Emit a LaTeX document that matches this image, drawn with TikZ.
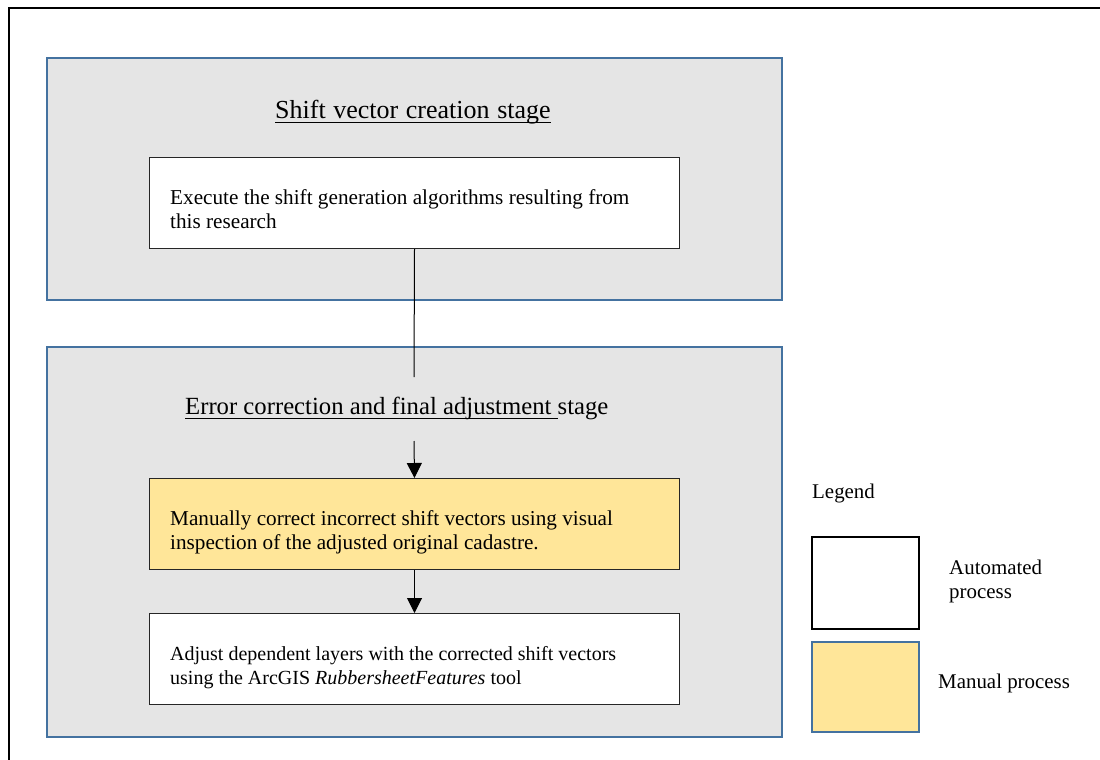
\documentclass[tikz,border=0pt]{standalone}
\usepackage{fontspec}
\setmainfont{Liberation Serif}
\usetikzlibrary{arrows.meta}
\definecolor{stageblue}{RGB}{68,114,160}
\definecolor{stagegray}{RGB}{229,229,229}
\definecolor{manualyellow}{RGB}{255,230,153}
\newcommand\myul[1]{\setbox0\hbox{#1}\rlap{\rule[-5.3pt]{\wd0}{1.5pt}}\box0}
\newcommand\twolines[2]{\begin{tabular}[t]{@{}l@{}}#1\\#2\end{tabular}}
\tikzset{
  stagebox/.style={draw=stageblue, line width=2.2pt, fill=stagegray, anchor=north west, inner sep=0pt},
  procbox/.style={draw=black!85, line width=1pt, fill=white, minimum width=530pt, minimum height=91pt,
    anchor=north west, inner sep=0pt},
  manualbox/.style={procbox, fill=manualyellow},
  boxtext/.style={anchor=base west, inner sep=0pt, font=\fontsize{21.2}{24}\selectfont},
  titletext/.style={anchor=base west, inner sep=0pt},
  legtext/.style={anchor=base west, inner sep=0pt, font=\fontsize{20.9}{24}\selectfont},
  flow/.style={line width=1pt, -{Triangle[length=15pt,width=15pt]}},
  plainline/.style={line width=1pt}
}
\begin{document}
\begin{tikzpicture}[x=1pt,y=-1pt]
\useasboundingbox (0,0) rectangle (1100,760);
\fill[white] (0,0) rectangle (1100,760);
% outer frame (only left and top visible)
\draw[line width=2pt] (8.5,1000) -- (8.5,8) -- (1200,8);
% stages
\node[stagebox, minimum width=735pt, minimum height=242pt] (s1) at (46,57) {};
\node[stagebox, minimum width=735pt, minimum height=390pt] (s2) at (46,346) {};
\node[titletext, font={\fontsize{26}{30}\selectfont\spaceskip=7.6pt plus 1pt}] (t1) at (275,118) {\myul{Shift vector creation stage}};
\node[titletext, font=\fontsize{24.7}{30}\selectfont] (t2) at (185,414) {\myul{Error correction and final adjustment\ }stage};
% process boxes
\node[procbox] (a) at (149,157) {};
\node[manualbox] (b) at (149,478) {};
\node[procbox] (c) at (149,613) {};
\node[boxtext] (at) at (170,204) {\twolines{Execute the shift generation algorithms resulting from}{this research}};
\node[boxtext] (bt) at (170,525) {\twolines{Manually correct incorrect shift vectors using visual}{inspection of the adjusted original cadastre.}};
\node[boxtext, font=\fontsize{20}{24}\selectfont] (ct) at (170,660) {\twolines{Adjust dependent layers with the corrected shift vectors}{using the ArcGIS \textit{RubbersheetFeatures} tool}};
\coordinate (aend) at (414,377);
\coordinate (bstart) at (414,441);
\draw[plainline] (a.south) -- (aend);
\draw[flow] (bstart) -- (b.north);
\draw[flow] (b.south) -- (c.north);
% legend
\node[legtext] (lg) at (812,498) {Legend};
\node[draw=black, line width=2pt, fill=white, anchor=north west, minimum width=107pt, minimum height=92pt, inner sep=0pt] (la) at (811,536) {};
\node[draw=stageblue, line width=1.5pt, fill=manualyellow, anchor=north west, minimum width=107pt, minimum height=90pt, inner sep=0pt] (lm) at (811,641) {};
\node[legtext] (lat) at (949,574) {\twolines{Automated}{process}};
\node[legtext] (lmt) at (938,688) {Manual process};
\end{tikzpicture}
\end{document}
